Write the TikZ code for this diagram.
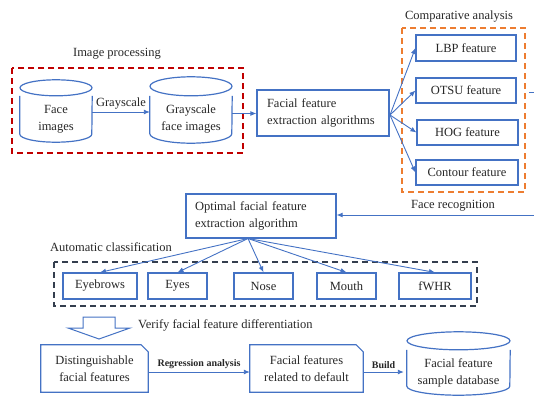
\documentclass[tikz,border=0pt]{standalone}
\usepackage{fontspec}
\setmainfont{Liberation Serif}
\usetikzlibrary{arrows.meta,calc}
\definecolor{lblue}{RGB}{68,114,196}
\definecolor{dred}{RGB}{192,0,0}
\definecolor{orng}{RGB}{237,125,49}
\definecolor{dgray}{RGB}{52,62,78}
\tikzset{
  every node/.style={font=\fontsize{12.5}{17}\selectfont, text=black!85},
  bx/.style={draw=lblue, line width=1.2pt, minimum width=#1, inner sep=0pt, align=center},
  bx/.default=100pt,
  plain/.style={inner sep=0pt, align=center},
  conn/.style={draw=lblue, line width=0.9pt, -{Latex[length=6pt,width=5pt]}},
  grp/.style={line width=2.4pt, dash pattern=on 6pt off 4pt},
  smlab/.style={font=\fontsize{10}{12}\selectfont\bfseries, inner sep=1pt},
  cylline/.style={draw=lblue, line width=1.2pt},
}
\newcommand\mycyl[2]{% node name, y radius
  \draw[cylline] ($(#1.north west)$) -- ($(#1.south west)+(0,#2)$)
     arc[start angle=180,end angle=360,x radius={0.5*(\pgfpointanchor{#1}{east}\relax 0pt)}, y radius=#2] ;
}
\begin{document}
\begin{tikzpicture}[x=1pt,y=1pt]
\useasboundingbox (0,0) rectangle (534,-396);

% ---- image processing group
\draw[dred,grp] (12,-68) rectangle (243,-153);
\node[plain] (ip) at (117,-54) {Image processing};

\node[plain, minimum width=72pt, minimum height=46pt] (face) at (56,-119) {Face\\images};
\node[plain, minimum width=82pt, minimum height=47pt] (gray) at (191,-119.5) {Grayscale\\face images};

% cylinders
\draw[cylline] (face.north west) -- ($(face.south west)+(0,8)$) arc[start angle=180,end angle=360,x radius=36pt,y radius=8pt] -- (face.north east);
\draw[cylline] ($(face.north)+(0,8)$) ellipse [x radius=36pt, y radius=8pt];
\draw[cylline] (gray.north west) -- ($(gray.south west)+(0,9.5)$) arc[start angle=180,end angle=360,x radius=41pt,y radius=9.5pt] -- (gray.north east);
\draw[cylline] ($(gray.north)+(0,9.5)$) ellipse [x radius=41pt, y radius=9.5pt];

\coordinate (g1) at (92,-112);
\draw[conn] (face.east |- g1) -- (gray.west |- g1) node[midway, above=2pt, plain] (gl) {Grayscale};

% ---- facial feature extraction
\node[bx=132pt, minimum height=46pt, text width=112pt, align=left] (ffe) at (323,-113) {Facial feature\\extraction algorithms};
\draw[conn] ($(gray.east)+(0,6)$) -- (ffe.west |- {$(gray.east)+(0,6)$});

% ---- comparative analysis
\draw[orng,grp] (402,-28) rectangle (525,-192);
\node[plain] (ca) at (459,-17) {Comparative analysis};
\node[bx=100pt, minimum height=26pt] (lbp) at (466,-48) {LBP feature};
\node[bx=100pt, minimum height=25pt] (otsu) at (466,-90.5) {OTSU feature};
\node[bx=101pt, minimum height=25pt] (hog) at (467.5,-132.5) {HOG feature};
\node[bx=102pt, minimum height=25pt] (cont) at (467,-172.5) {Contour feature};
\coordinate (fsrc) at (390,-115);
\foreach \t in {lbp,otsu,hog,cont} \draw[conn] (fsrc) -- (\t.west);
\coordinate (stubA) at (529,-92);
\coordinate (stubB) at (534,-92);
\draw[lblue, line width=0.9pt] (stubA) -- (stubB);

% ---- optimal algorithm
\node[bx=150pt, minimum height=44pt, text width=132pt, align=left] (opt) at (261,-216) {Optimal facial feature\\extraction algorithm};
\coordinate (frsrc) at (534,-215);
\draw[conn] (frsrc) -- (opt.east |- frsrc);
\node[plain] (fr) at (453,-206) {Face recognition};

% ---- automatic classification
\node[plain] (ac) at (111,-247) {Automatic classification};
\draw[dgray,grp] (54,-262) rectangle (477,-306);
\node[bx=74pt, minimum height=26pt] (brow) at (100,-286) {Eyebrows};
\node[bx=59pt, minimum height=26pt] (eyes) at (177.5,-286) {Eyes};
\node[bx=59pt, minimum height=26pt] (nose) at (263.5,-286) {Nose};
\node[bx=59pt, minimum height=26pt] (mouth) at (346.5,-286) {Mouth};
\node[bx=72pt, minimum height=26pt] (fwhr) at (435,-286) {fWHR};
\coordinate (osrc) at (248,-238.5);
\foreach \t in {brow,eyes,nose,mouth,fwhr} \draw[conn] (osrc) -- (\t.north);

% ---- hollow arrow
\draw[lblue, line width=1pt, fill=white] (83,-317) -- (115,-317) -- (115,-328) -- (130,-328) -- (99,-339) -- (68,-328) -- (83,-328) -- cycle;
\node[plain, anchor=west] (vf) at (138,-325) {Verify facial feature differentiation};

% ---- bottom row
\node[plain, minimum width=107pt, minimum height=47pt] (dist) at (94.5,-368.5) {Distinguishable\\facial features};
\node[plain, minimum width=113pt, minimum height=47pt] (rel) at (306.5,-368.5) {Facial features\\related to default};
\foreach \n in {dist,rel}
  \draw[cylline] (\n.south west) -- (\n.north west) -- ($(\n.north east)+(-7,0)$) -- ($(\n.north east)+(0,-7)$) -- (\n.south east) -- cycle;

\node[plain, minimum width=103pt, minimum height=45pt] (db) at (458.5,-372.5) {Facial feature\\sample database};
\draw[cylline] (db.north west) -- ($(db.south west)+(0,9)$) arc[start angle=180,end angle=360,x radius=51.5pt,y radius=9pt] -- (db.north east);
\draw[cylline] ($(db.north)+(0,9)$) ellipse [x radius=51.5pt, y radius=9pt];

\coordinate (b1) at (0,-372);
\draw[conn] (dist.east |- b1) -- (rel.west |- b1) node[midway, above=2pt, smlab] (ra) {Regression analysis};
\draw[conn] (rel.east |- b1) -- ($(db.west |- b1)+(-3,0)$) node[midway, above=2pt, smlab] (bl) {Build};
\end{tikzpicture}
\end{document}
